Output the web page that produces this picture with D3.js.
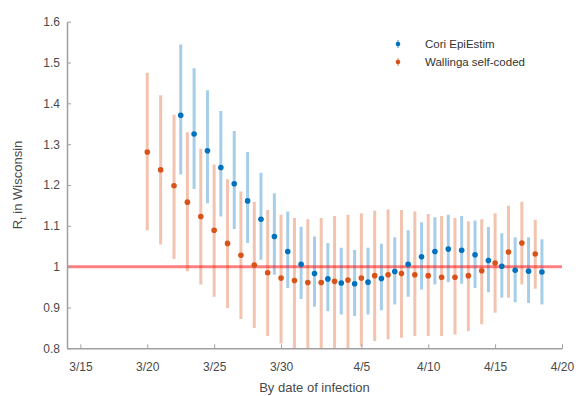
<!DOCTYPE html>
<html>
<head>
<meta charset="utf-8">
<script src="https://cdn.jsdelivr.net/npm/d3@7"></script>
<style>
  body { margin: 0; background: #fff; }
  svg { display: block; font-family: "Liberation Sans", Arial, sans-serif; }
</style>
</head>
<body>
<div id="chart"></div>
<script>
(function () {
  // data
  const wallingaDates = [
    "2020-03-20 00", "2020-03-21 00", "2020-03-22 00", "2020-03-23 00", "2020-03-24 00",
    "2020-03-25 00", "2020-03-26 00", "2020-03-27 00", "2020-03-28 00", "2020-03-29 00",
    "2020-03-30 00", "2020-03-31 00", "2020-04-01 00", "2020-04-02 00", "2020-04-03 00",
    "2020-04-04 00", "2020-04-05 00", "2020-04-06 00", "2020-04-07 00", "2020-04-08 00",
    "2020-04-09 00", "2020-04-10 00", "2020-04-11 00", "2020-04-12 00", "2020-04-13 00",
    "2020-04-14 00", "2020-04-15 00", "2020-04-16 00", "2020-04-17 00", "2020-04-18 00"
  ];
  const wallingaMean = [
    1.281, 1.237, 1.198, 1.158, 1.123, 1.089, 1.057, 1.028, 1.004, 0.985,
    0.972, 0.966, 0.961, 0.961, 0.964, 0.967, 0.972, 0.978, 0.980, 0.983,
    0.980, 0.978, 0.974, 0.974, 0.978, 0.990, 1.009, 1.036, 1.058, 1.031
  ];
  const wallingaLow = [
    1.089, 1.054, 1.019, 0.989, 0.956, 0.926, 0.899, 0.872, 0.850, 0.830,
    0.812, 0.798, 0.790, 0.785, 0.785, 0.792, 0.805, 0.818, 0.822, 0.826,
    0.830, 0.830, 0.830, 0.834, 0.842, 0.859, 0.887, 0.924, 0.956, 0.946
  ];
  const wallingaHigh = [
    1.475, 1.420, 1.372, 1.329, 1.289, 1.250, 1.214, 1.184, 1.159, 1.139,
    1.127, 1.119, 1.116, 1.119, 1.124, 1.127, 1.131, 1.137, 1.140, 1.139,
    1.135, 1.129, 1.124, 1.119, 1.111, 1.116, 1.131, 1.149, 1.159, 1.115
  ];

  const coriDates = [
    "2020-03-22 12", "2020-03-23 12", "2020-03-24 12", "2020-03-25 12", "2020-03-26 12",
    "2020-03-27 12", "2020-03-28 12", "2020-03-29 12", "2020-03-30 12", "2020-03-31 12",
    "2020-04-01 12", "2020-04-02 12", "2020-04-03 12", "2020-04-04 12", "2020-04-05 12",
    "2020-04-06 12", "2020-04-07 12", "2020-04-08 12", "2020-04-09 12", "2020-04-10 12",
    "2020-04-11 12", "2020-04-12 12", "2020-04-13 12", "2020-04-14 12", "2020-04-15 12",
    "2020-04-16 12", "2020-04-17 12", "2020-04-18 12"
  ];
  const coriMean = [
    1.371, 1.325, 1.284, 1.243, 1.203, 1.161, 1.116, 1.074, 1.037, 1.006,
    0.983, 0.970, 0.960, 0.958, 0.962, 0.971, 0.988, 1.006, 1.024, 1.037,
    1.043, 1.040, 1.029, 1.015, 1.001, 0.991, 0.989, 0.987
  ];
  const coriLow = [
    1.226, 1.190, 1.155, 1.123, 1.092, 1.058, 1.017, 0.980, 0.948, 0.921,
    0.902, 0.891, 0.883, 0.879, 0.883, 0.893, 0.907, 0.926, 0.944, 0.956,
    0.962, 0.958, 0.948, 0.937, 0.924, 0.913, 0.911, 0.907
  ];
  const coriHigh = [
    1.544, 1.486, 1.432, 1.381, 1.332, 1.281, 1.230, 1.180, 1.135, 1.098,
    1.074, 1.058, 1.046, 1.041, 1.046, 1.056, 1.072, 1.089, 1.109, 1.121,
    1.127, 1.124, 1.113, 1.097, 1.082, 1.072, 1.072, 1.067
  ];

  const xTickDates = ["2020-03-15 00", "2020-03-20 00", "2020-03-25 00", "2020-03-30 00",
                      "2020-04-05 00", "2020-04-10 00", "2020-04-15 00", "2020-04-20 00"];
  const xTickLabels = ["3/15", "3/20", "3/25", "3/30", "4/5", "4/10", "4/15", "4/20"];
  const yTicks = [0.8, 0.9, 1.0, 1.1, 1.2, 1.3, 1.4, 1.5, 1.6];
  const yTickLabels = ["0.8", "0.9", "1", "1.1", "1.2", "1.3", "1.4", "1.5", "1.6"];
  const referenceLevel = 1;
  const seriesNames = ["Cori EpiEstim", "Wallinga self-coded"];

  const parse = d3.timeParse("%Y-%m-%d %H");
  const blue = "#0072BD";
  const orange = "#D95319";

  const width = 578, height = 396;
  const margin = { left: 67, right: 16, top: 21.7, bottom: 47.7 };

  const svg = d3.select("#chart")
    .append("svg")
    .attr("width", width)
    .attr("height", height);

  const x = d3.scaleTime()
    .domain([parse("2020-03-14 00"), parse("2020-04-20 00")])
    .range([margin.left, width - margin.right]);

  const y = d3.scaleLinear()
    .domain([0.8, 1.6])
    .range([height - margin.bottom, margin.top]);

  svg.append("defs").append("clipPath")
    .attr("id", "plot-clip")
    .append("rect")
    .attr("x", margin.left)
    .attr("y", margin.top)
    .attr("width", width - margin.right - margin.left)
    .attr("height", height - margin.bottom - margin.top);

  const plot = svg.append("g").attr("clip-path", "url(#plot-clip)");

  const cori = coriDates.map((d, i) => ({
    date: parse(d), mean: coriMean[i], lo: coriLow[i], hi: coriHigh[i]
  }));
  const wallinga = wallingaDates.map((d, i) => ({
    date: parse(d), mean: wallingaMean[i], lo: wallingaLow[i], hi: wallingaHigh[i]
  }));

  function drawBars(data, color, cls) {
    plot.selectAll("line." + cls)
      .data(data)
      .join("line")
      .attr("class", cls)
      .attr("x1", d => x(d.date))
      .attr("x2", d => x(d.date))
      .attr("y1", d => y(d.lo))
      .attr("y2", d => y(d.hi))
      .attr("stroke", color)
      .attr("stroke-opacity", 0.35)
      .attr("stroke-width", 3);
  }

  function drawDots(data, color, cls) {
    plot.selectAll("circle." + cls)
      .data(data)
      .join("circle")
      .attr("class", cls)
      .attr("cx", d => x(d.date))
      .attr("cy", d => y(d.mean))
      .attr("r", 2.8)
      .attr("fill", color);
  }

  drawBars(wallinga, orange, "bar-w");
  drawBars(cori, blue, "bar-c");

  // reference line at R = 1
  plot.append("line")
    .attr("x1", margin.left)
    .attr("x2", width - margin.right)
    .attr("y1", y(referenceLevel))
    .attr("y2", y(referenceLevel))
    .attr("stroke", "#ff0000")
    .attr("stroke-opacity", 0.5)
    .attr("stroke-width", 3);

  drawDots(wallinga, orange, "dot-w");
  drawDots(cori, blue, "dot-c");

  // axes
  const xAxis = d3.axisBottom(x)
    .tickValues(xTickDates.map(parse))
    .tickFormat((d, i) => xTickLabels[i])
    .tickSizeInner(-4)
    .tickSizeOuter(0)
    .tickPadding(14);

  const yAxis = d3.axisLeft(y)
    .tickValues(yTicks)
    .tickFormat((d, i) => yTickLabels[i])
    .tickSizeInner(-4)
    .tickSizeOuter(0)
    .tickPadding(7);

  const gx = svg.append("g")
    .attr("transform", `translate(0,${height - margin.bottom})`)
    .call(xAxis);
  const gy = svg.append("g")
    .attr("transform", `translate(${margin.left},0)`)
    .call(yAxis);

  [gx, gy].forEach(g => {
    g.select(".domain").attr("stroke", "#a0a0a0").attr("stroke-width", 1.5);
    g.selectAll(".tick line").attr("stroke", "#a0a0a0").attr("stroke-width", 1);
    g.selectAll(".tick text")
      .attr("fill", "#4a4a4a")
      .style("font-size", "12px")
      .style("font-family", "Liberation Sans, Arial, sans-serif");
  });

  // axis titles
  svg.append("text")
    .attr("x", (margin.left + width - margin.right) / 2)
    .attr("y", 392)
    .attr("text-anchor", "middle")
    .attr("fill", "#4a4a4a")
    .style("font-size", "13px")
    .text("By date of infection");

  const ylab = svg.append("text")
    .attr("transform", `translate(22,${(margin.top + height - margin.bottom) / 2}) rotate(-90)`)
    .attr("text-anchor", "middle")
    .attr("fill", "#4a4a4a")
    .style("font-size", "13px");
  ylab.append("tspan").text("R");
  ylab.append("tspan").attr("dy", 4).style("font-size", "9px").text("t");
  ylab.append("tspan").attr("dy", -4).text(" in Wisconsin");

  // legend
  const legend = svg.append("g");
  const legendColors = [blue, orange];
  seriesNames.forEach((name, i) => {
    const ly = 44 + i * 18;
    legend.append("line")
      .attr("x1", 398).attr("x2", 398)
      .attr("y1", ly - 4).attr("y2", ly + 4)
      .attr("stroke", legendColors[i])
      .attr("stroke-opacity", 0.5)
      .attr("stroke-width", 1.5);
    legend.append("circle")
      .attr("cx", 398).attr("cy", ly).attr("r", 2.3)
      .attr("fill", legendColors[i]);
    legend.append("text")
      .attr("x", 425).attr("y", ly + 4)
      .attr("fill", "#333")
      .style("font-size", "11.5px")
      .text(name);
  });
})();
</script>
</body>
</html>
